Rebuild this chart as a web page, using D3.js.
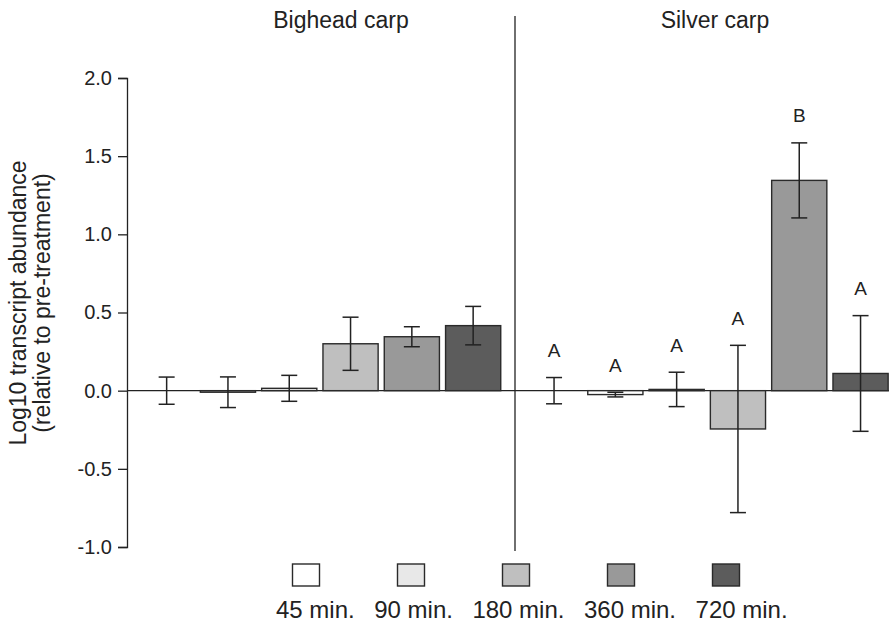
<!DOCTYPE html>
<html>
<head>
<meta charset="utf-8">
<script src="https://cdn.jsdelivr.net/npm/d3@7"></script>
<style>
  html, body { margin: 0; padding: 0; background: #fff; }
  svg { display: block; font-family: "Liberation Sans", Arial, Helvetica, sans-serif; }
</style>
</head>
<body>
<svg id="chart" width="892" height="627"></svg>
<script>
// ---------------- data ----------------
const timepoints = ["0 min.", "45 min.", "90 min.", "180 min.", "360 min.", "720 min."];
const legendLabels = ["45 min.", "90 min.", "180 min.", "360 min.", "720 min."];
const groups = ["Bighead carp", "Silver carp"];

const bigheadValues = [0, -0.01, 0.015, 0.30, 0.345, 0.416];
const bigheadErrors = [0.087, 0.098, 0.083, 0.17, 0.064, 0.123];

const silverValues = [0, -0.025, 0.008, -0.245, 1.345, 0.11];
const silverErrors = [0.084, 0.015, 0.11, 0.535, 0.24, 0.37];
const silverLetters = ["A", "A", "A", "A", "B", "A"];

const yTicks = [-1.0, -0.5, 0.0, 0.5, 1.0, 1.5, 2.0];

const fills = ["none", "#ffffff", "#e8e8e8", "#bfbfbf", "#999999", "#5c5c5c"];

// ---------------- layout ----------------
const svg = d3.select("#chart");
const ink = "#222";
const y = d3.scaleLinear().domain([-1, 2]).range([547, 78]);

const xBig = d3.scaleBand().domain(timepoints).range([136, 503.8]).paddingInner(0.1).paddingOuter(0.05);
const xSil = d3.scaleBand().domain(timepoints).range([523.4, 891.2]).paddingInner(0.1).paddingOuter(0.05);
const color = d3.scaleOrdinal().domain(timepoints).range(fills);

// y axis
const fmt = d3.format(".1f");
const yAxis = d3.axisLeft(y).tickValues(yTicks)
  .tickFormat(d => fmt(d).replace("\u2212", "-"))
  .tickSize(9).tickSizeOuter(9).tickPadding(6);
const ag = svg.append("g").attr("transform", "translate(127,0)").call(yAxis);
ag.selectAll("path, line").attr("stroke", ink).attr("stroke-width", 1.3);
ag.selectAll("text").attr("fill", ink).style("font-size", "20px").attr("font-family", null);

// y axis title
const yt = svg.append("g").attr("transform", "translate(0,303) rotate(-90)");
yt.append("text").attr("x", 0).attr("y", 26).attr("text-anchor", "middle")
  .style("font-size", "23px").attr("fill", ink).text("Log10 transcript abundance");
yt.append("text").attr("x", 0).attr("y", 50).attr("text-anchor", "middle")
  .style("font-size", "23px").attr("fill", ink).text("(relative to pre-treatment)");

// zero line
svg.append("line").attr("x1", 127).attr("x2", 889).attr("y1", y(0)).attr("y2", y(0))
  .attr("stroke", ink).attr("stroke-width", 1.3);

// divider
svg.append("line").attr("x1", 515).attr("x2", 515).attr("y1", 16).attr("y2", 551)
  .attr("stroke", ink).attr("stroke-width", 1.3);

// group titles
svg.append("text").attr("x", 341).attr("y", 28).attr("text-anchor", "middle")
  .style("font-size", "23px").attr("fill", ink).text(groups[0]);
svg.append("text").attr("x", 715).attr("y", 28).attr("text-anchor", "middle")
  .style("font-size", "23px").attr("fill", ink).text(groups[1]);

function drawGroup(x, values, errors, letters) {
  const data = timepoints.map((t, i) => ({ t, v: values[i], e: errors[i], l: letters ? letters[i] : null }));
  const g = svg.append("g");
  g.selectAll("rect.bar").data(data.filter(d => d.t !== timepoints[0])).join("rect")
    .attr("class", "bar")
    .attr("x", d => x(d.t))
    .attr("width", x.bandwidth())
    .attr("y", d => Math.min(y(d.v), y(0)))
    .attr("height", d => Math.abs(y(d.v) - y(0)))
    .attr("fill", d => color(d.t))
    .attr("stroke", "#2a2a2a").attr("stroke-width", 1.4);
  const cap = 8;
  const eb = g.selectAll("g.err").data(data).join("g").attr("class", "err");
  eb.append("line")
    .attr("x1", d => x(d.t) + x.bandwidth() / 2).attr("x2", d => x(d.t) + x.bandwidth() / 2)
    .attr("y1", d => y(d.v + d.e)).attr("y2", d => y(d.v - d.e));
  eb.append("line")
    .attr("x1", d => x(d.t) + x.bandwidth() / 2 - cap).attr("x2", d => x(d.t) + x.bandwidth() / 2 + cap)
    .attr("y1", d => y(d.v + d.e)).attr("y2", d => y(d.v + d.e));
  eb.append("line")
    .attr("x1", d => x(d.t) + x.bandwidth() / 2 - cap).attr("x2", d => x(d.t) + x.bandwidth() / 2 + cap)
    .attr("y1", d => y(d.v - d.e)).attr("y2", d => y(d.v - d.e));
  eb.selectAll("line").attr("stroke", ink).attr("stroke-width", 1.5);
  if (letters) {
    g.selectAll("text.letter").data(data).join("text")
      .attr("class", "letter")
      .attr("x", d => x(d.t) + x.bandwidth() / 2)
      .attr("y", d => y(d.v + d.e) - 27 + 6.5)
      .attr("text-anchor", "middle")
      .style("font-size", "19px").attr("fill", ink)
      .text(d => d.l);
  }
}
drawGroup(xBig, bigheadValues, bigheadErrors, null);
drawGroup(xSil, silverValues, silverErrors, silverLetters);

// legend: boxes on a point scale, labels flow left to right below
const lg = svg.append("g");
const xLegend = d3.scalePoint().domain(legendLabels).range([306, 726]);
legendLabels.forEach((lab, i) => {
  lg.append("rect").attr("x", xLegend(lab) - 13.5).attr("y", 564).attr("width", 27).attr("height", 22)
    .attr("fill", color(timepoints[i + 1])).attr("stroke", "#2a2a2a").attr("stroke-width", 1.4);
});
let cursor = 276;
const legendGap = 19.5;
legendLabels.forEach(lab => {
  const t = lg.append("text").attr("x", cursor).attr("y", 618)
    .style("font-size", "24px").attr("fill", ink).text(lab);
  cursor += t.node().getComputedTextLength() + legendGap;
});
</script>
</body>
</html>
